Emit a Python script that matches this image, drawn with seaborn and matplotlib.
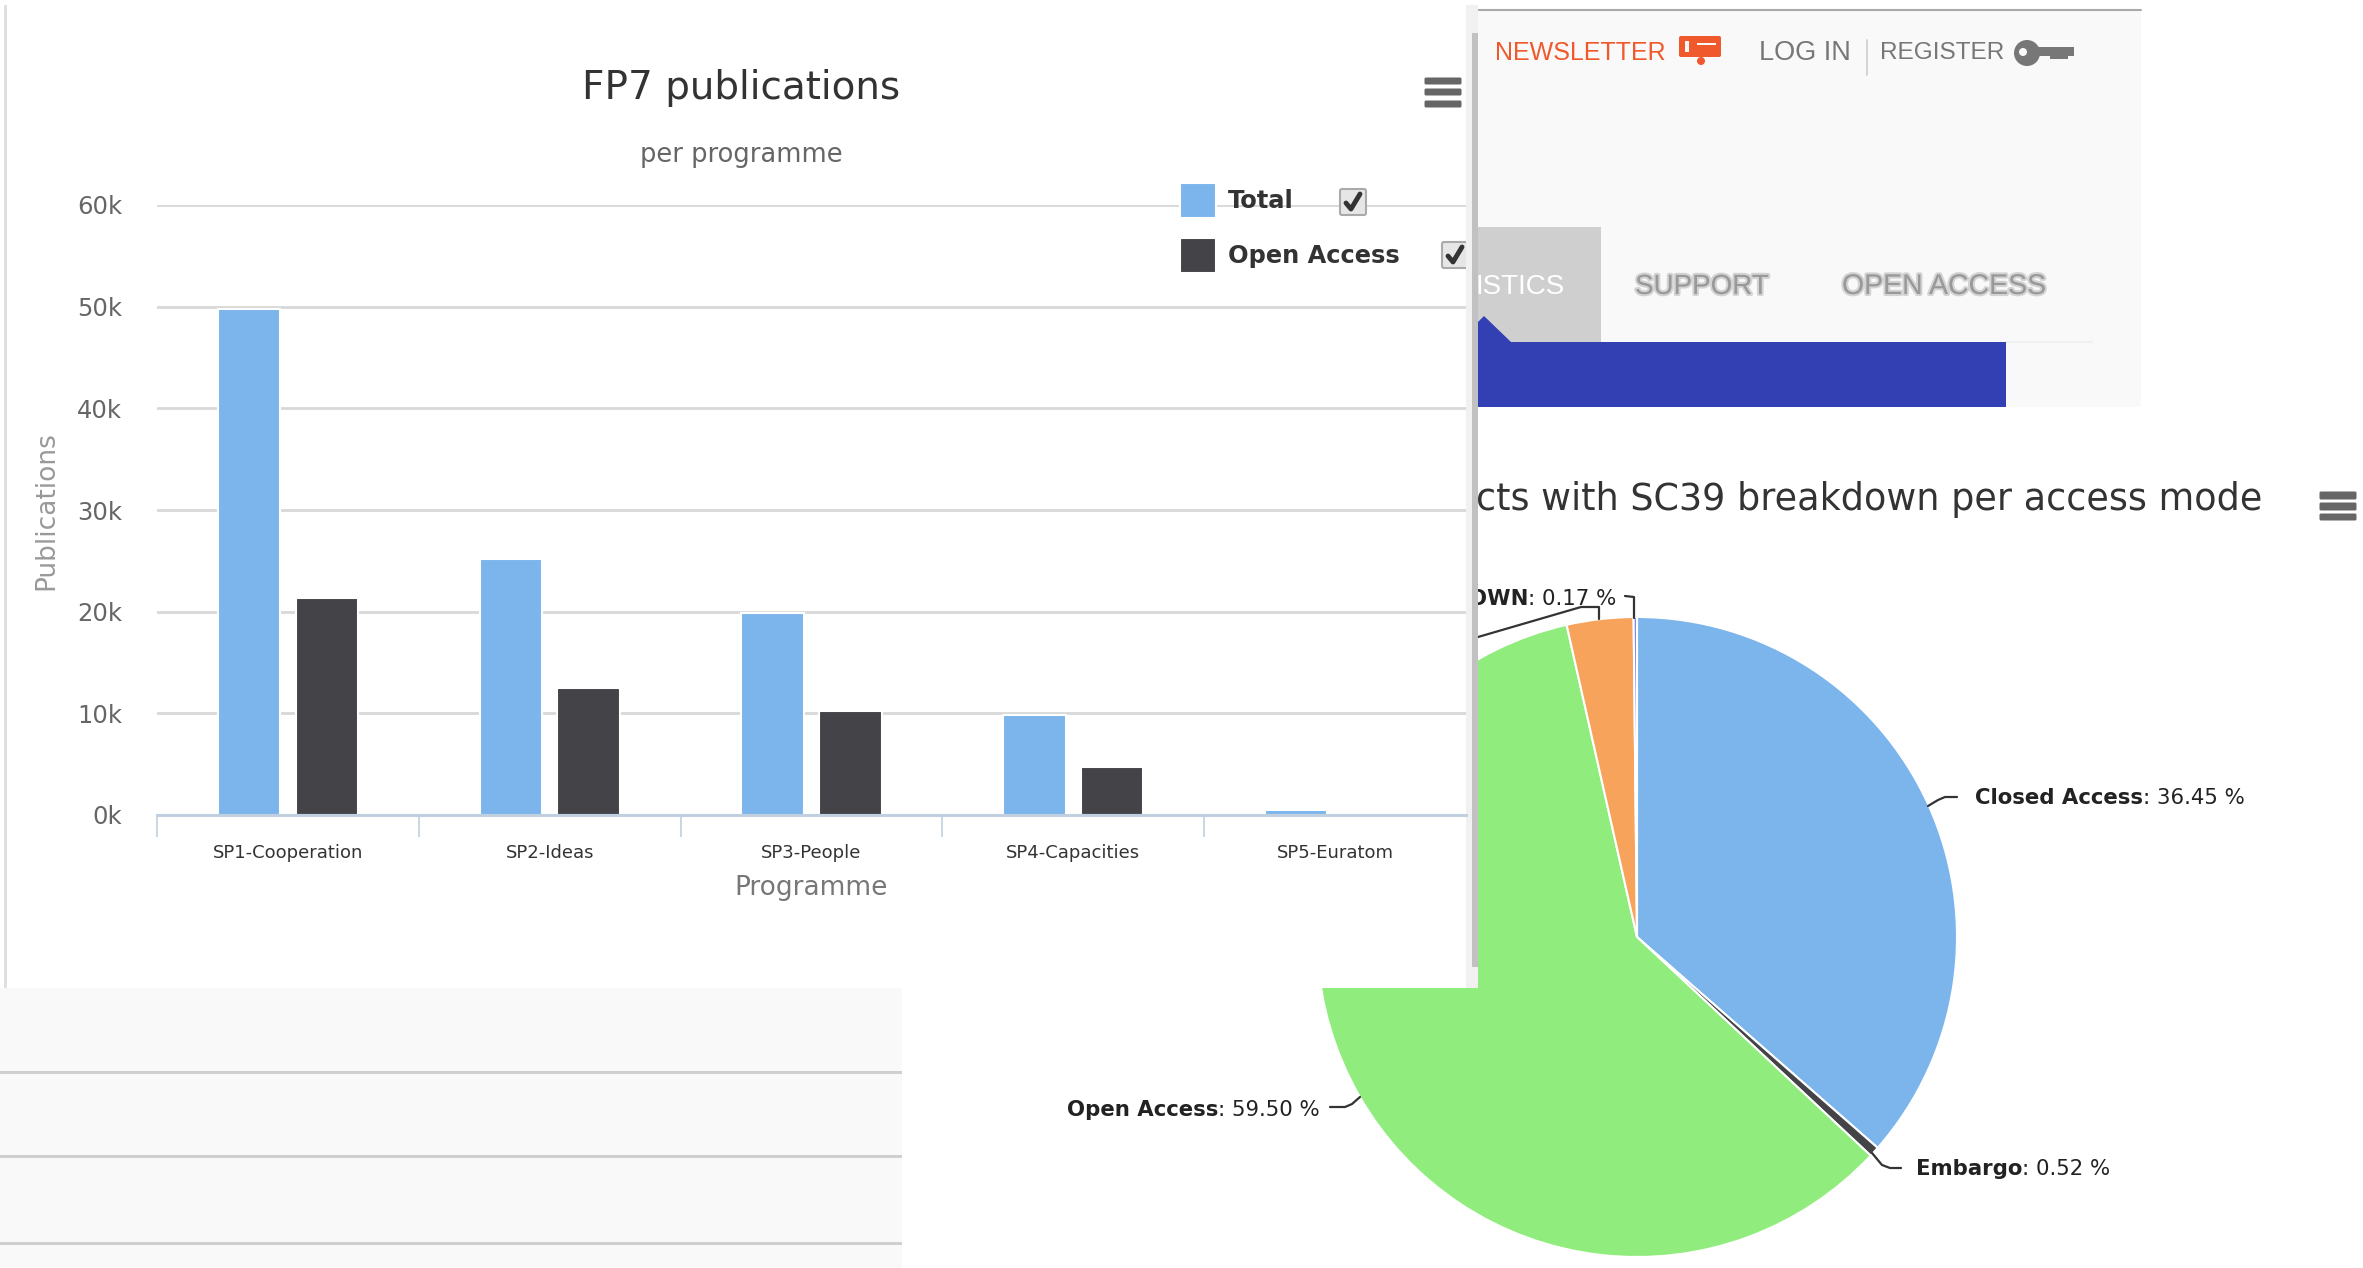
import matplotlib
matplotlib.use("Agg")
import matplotlib.pyplot as plt
import matplotlib.patheffects as pe
from matplotlib.patches import Rectangle, Polygon, FancyBboxPatch, Circle
import seaborn as sns
import pandas as pd

# chart values
programmes = ["SP1-Cooperation", "SP2-Ideas", "SP3-People", "SP4-Capacities", "SP5-Euratom"]
total_pubs = [49800, 25200, 19900, 9800, 500]
open_pubs = [21300, 12500, 10200, 4700, 100]
y_tick_values = [0, 10000, 20000, 30000, 40000, 50000, 60000]
y_tick_labels = ["0k", "10k", "20k", "30k", "40k", "50k", "60k"]

access_modes = ["Closed Access", "Embargo", "Open Access", "Restricted", "Unknown"]
access_shares = [36.45, 0.52, 59.50, 3.36, 0.17]
access_colors = ["#7cb5ec", "#434348", "#90ed7d", "#f7a35c", "#8085e9"]

W, H = 2363, 1268
sns.set_theme(style="white")
plt.rcParams["font.family"] = ["DejaVu Sans"]
NARROW = ["Liberation Sans", "DejaVu Sans"]

fig = plt.figure(figsize=(W / 100, H / 100), dpi=100, facecolor="white")


def px_axes(z):
    # full figure axes that work in reference pixels, for the page furniture
    ax = fig.add_axes([0, 0, 1, 1], zorder=z)
    ax.set_xlim(0, W)
    ax.set_ylim(H, 0)
    ax.axis("off")
    ax.patch.set_alpha(0)
    return ax


def rect(ax, x0, y0, x1, y1, color, z=1):
    ax.add_patch(Rectangle((x0, y0), x1 - x0, y1 - y0, color=color, lw=0, zorder=z))


def burger(ax, x0, x1, rows):
    for y0, y1 in rows:
        ax.add_patch(FancyBboxPatch((x0 + 2, y0 + 1), x1 - x0 - 4, y1 - y0 - 2,
                                    boxstyle="round,pad=1.5", color="#666666", lw=0, zorder=5))


def checkbox(ax, cx, cy):
    ax.add_patch(FancyBboxPatch((cx - 11, cy - 11), 22, 22, boxstyle="round,pad=2",
                                fc="#e6e6e6", ec="#aaaaaa", lw=1.5, zorder=5))
    ax.plot([cx - 7, cx - 2, cx + 7], [cy + 1, cy + 7, cy - 8], color="#333333",
            lw=3.5, zorder=6, solid_capstyle="round")


# back layer: top right page header
back = px_axes(0)
rect(back, 1478, 10, 2141, 407, "#f9f9f9")
back.plot([1478, 2141], [10, 10], color="#aaaaaa", lw=1.5, zorder=2)
rect(back, 1478, 227, 1601, 342, "#cfcfcf", 2)
rect(back, 1478, 342, 2006, 407, "#3340b4", 3)
back.add_patch(Polygon([[1478, 342], [1478, 322], [1484, 316], [1511, 342]], color="#3340b4", lw=0, zorder=3))
back.plot([2006, 2092], [342, 342], color="#f0f0f0", lw=1.5, zorder=2)

back.text(1495, 53, "NEWSLETTER", color="#f0592b", fontsize=18, family=NARROW, va="center")
back.text(1759, 53, "LOG IN", color="#777777", fontsize=19.5, family=NARROW, va="center")
back.text(1880, 53, "REGISTER", color="#777777", fontsize=17.6, family=NARROW, va="center")
back.plot([1867, 1867], [40, 75], color="#cccccc", lw=1.2, zorder=2)

# mail and key icons
back.add_patch(FancyBboxPatch((1681, 38), 38, 17, boxstyle="round,pad=2", color="#f0592b", lw=0, zorder=3))
rect(back, 1685, 41, 1689, 52, "#f9f9f9", 4)
rect(back, 1697, 43, 1716, 45, "#f9f9f9", 4)
back.add_patch(Circle((1701, 61), 4, color="#f0592b", lw=0, zorder=3))
back.add_patch(Circle((2027, 53), 13, color="#777777", lw=0, zorder=3))
back.add_patch(Circle((2023, 52), 4, color="#f9f9f9", lw=0, zorder=4))
rect(back, 2036, 47, 2074, 56, "#777777", 3)
rect(back, 2050, 56, 2068, 59, "#777777", 3)

back.text(1565, 287, "ISTICS", color="white", fontsize=20, family=NARROW, va="center", ha="right", zorder=4)
blur = [pe.withStroke(linewidth=3, foreground="#bbbbbb", alpha=0.6)]
back.text(1635, 287, "SUPPORT", color="#999999", fontsize=20, family=NARROW, va="center",
          path_effects=blur, zorder=4)
back.text(1842, 287, "OPEN ACCESS", color="#999999", fontsize=20.5, family=NARROW, va="center",
          path_effects=blur, zorder=4)

# the pie, partly hidden by the bar chart panel
pie_ax = fig.add_axes([(1637 - 320) / W, 1 - (937 + 320) / H, 640 / W, 640 / H], zorder=1)
pie_ax.pie(access_shares, colors=access_colors, startangle=90, counterclock=False,
           radius=1, wedgeprops={"edgecolor": "white", "linewidth": 1.5})
pie_ax.set_xlim(-1, 1)
pie_ax.set_ylim(-1, 1)

labels = px_axes(1.5)
labels.text(2262, 500, "cts with SC39 breakdown per access mode", color="#333333", fontsize=26.3,
            ha="right", va="center")
burger(labels, 2319, 2357, [(492, 499), (503, 510), (514, 520)])

label_style = {"fontsize": 15.3, "va": "center", "color": "#222222"}
labels.text(2143, 798, "Closed Access", fontweight="bold", ha="right", **label_style)
labels.text(2143, 798, ": 36.45 %", ha="left", **label_style)
labels.text(1218, 1110, "Open Access", fontweight="bold", ha="right", **label_style)
labels.text(1218, 1110, ": 59.50 %", ha="left", **label_style)
labels.text(2022, 1169, "Embargo", fontweight="bold", ha="right", **label_style)
labels.text(2022, 1169, ": 0.52 %", ha="left", **label_style)
labels.text(1528, 599, "OWN", fontweight="bold", ha="right", **label_style)
labels.text(1528, 599, ": 0.17 %", ha="left", **label_style)

# connectors from the slices to their labels
conn = {"color": "#333333", "lw": 1.6}
labels.plot([1928, 1938, 1945, 1957], [806, 800, 797, 797], **conn)
labels.plot([1360, 1352, 1345, 1330], [1097, 1104, 1107, 1107], **conn)
labels.plot([1872, 1882, 1890, 1901], [1153, 1165, 1168, 1168], **conn)
labels.plot([1599, 1599, 1581, 1478], [619, 607, 607, 637], **conn)
labels.plot([1634, 1634, 1625], [618, 597, 596], **conn)

# panels that sit over the pie
cover = px_axes(2)
rect(cover, 0, 0, 1478, 988, "white")
rect(cover, 4, 5, 7, 988, "#e0e0e0", 2)
rect(cover, 1466, 5, 1478, 988, "#f1f1f1", 2)
rect(cover, 1472, 33, 1478, 967, "#c1c1c1", 3)
rect(cover, 0, 988, 902, 1268, "#f9f9f9")
for y in [1072, 1156, 1243]:
    rect(cover, 0, y - 1, 902, y + 1.5, "#cfcfcf", 2)

# the bar chart
bar_df = pd.DataFrame({
    "Programme": programmes * 2,
    "Series": ["Total"] * len(programmes) + ["Open Access"] * len(programmes),
    "Publications": total_pubs + open_pubs,
})
ax = fig.add_axes([157 / W, 1 - 815 / H, (1466 - 157) / W, (815 - 205) / H], zorder=3)
ax.patch.set_alpha(0)
sns.barplot(data=bar_df, x="Programme", y="Publications", hue="Series",
            palette=["#7cb5ec", "#434348"], saturation=1, width=0.595, gap=0.2,
            edgecolor="white", linewidth=1.5, ax=ax, zorder=3)
ax.set_xlim(-0.5, 4.5)
ax.set_ylim(0, 60000)
ax.set_yticks(y_tick_values)
ax.set_yticklabels(y_tick_labels, fontsize=17.5, color="#666666")
ax.set_xticks(range(len(programmes)))
ax.set_xticklabels(programmes, fontsize=13, color="#333333")
ax.set_xticks([i - 0.5 for i in range(len(programmes))], minor=True)
ax.tick_params(axis="x", which="major", length=0, pad=21)
ax.tick_params(axis="x", which="minor", bottom=True, length=16, width=1.2, color="#c0d0e0")
ax.tick_params(axis="y", length=0, pad=25)
ax.set_axisbelow(True)
ax.grid(axis="y", color="#d8d8d8", lw=2)
sns.despine(ax=ax, left=True)
ax.spines["bottom"].set_color("#c0d0e0")
ax.spines["bottom"].set_linewidth(2.2)
ax.spines["bottom"].set_zorder(5)
ax.set_xlabel("Programme", fontsize=19, color="#777777", labelpad=9)
ax.set_ylabel("")

handles, names = ax.get_legend_handles_labels()
ax.legend(handles, names, loc="upper left", bbox_to_anchor=(1180 / W, 1 - 183 / H),
          bbox_transform=fig.transFigure, frameon=False, borderpad=0, borderaxespad=0,
          handlelength=1.49, handleheight=1.82, handletextpad=0.5, labelspacing=0.85,
          labelcolor="#333333", prop={"size": 17.4, "weight": "bold"})

top = px_axes(4)
top.text(741, 88, "FP7 publications", color="#333333", fontsize=28, ha="center", va="center")
top.text(741, 155, "per programme", color="#666666", fontsize=18.5, ha="center", va="center")
top.text(46, 511, "Publications", color="#999999", fontsize=19, rotation=90, ha="center", va="center")
burger(top, 1424, 1462, [(78, 84), (89, 95), (101, 107)])
checkbox(top, 1353, 202)
checkbox(top, 1455, 255)
# scrollbar sits over the second checkbox
rect(top, 1466, 230, 1472, 280, "#f1f1f1", 7)
rect(top, 1472, 230, 1478, 280, "#c1c1c1", 7)

fig.savefig("out.png", dpi=100, facecolor="white")
